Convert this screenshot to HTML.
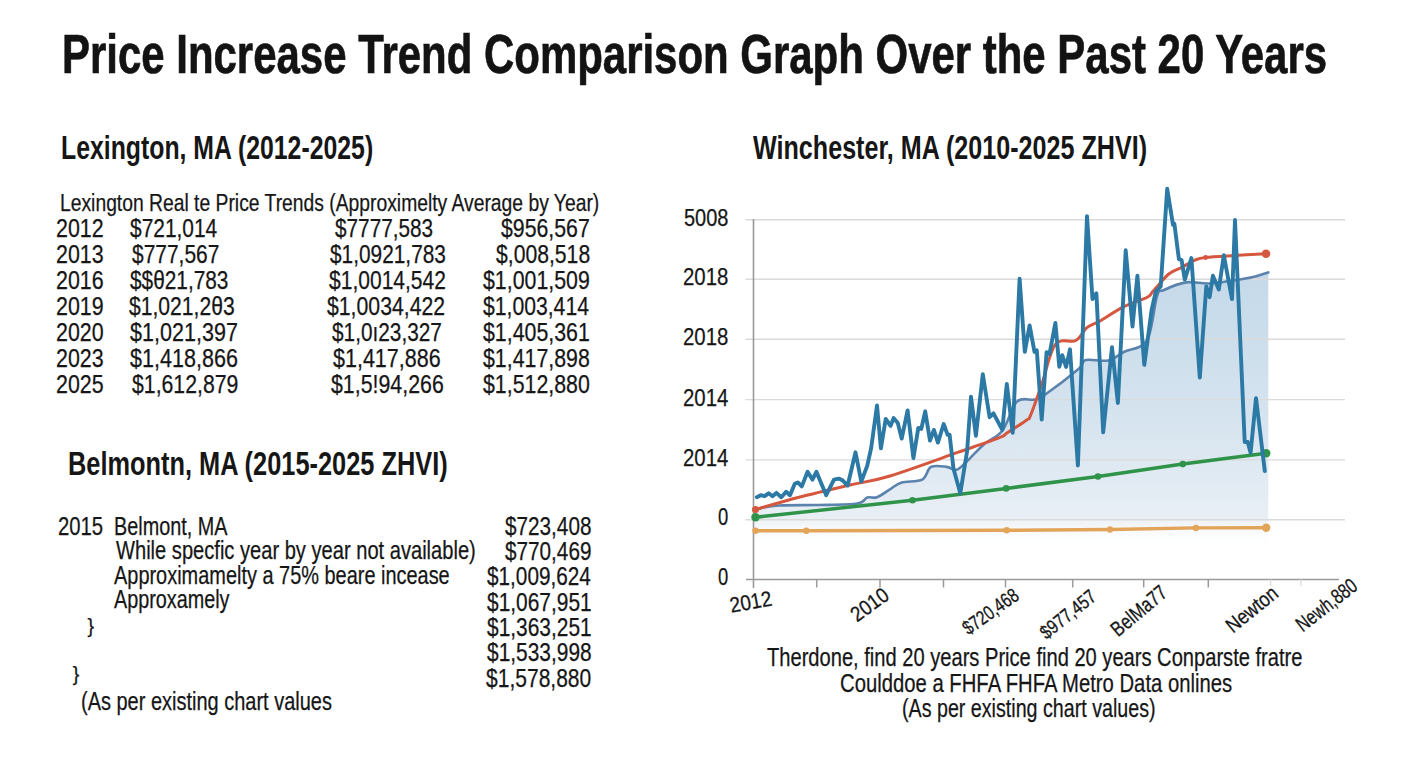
<!DOCTYPE html>
<html><head><meta charset="utf-8"><style>
html,body{margin:0;padding:0;}
body{width:1408px;height:768px;position:relative;overflow:hidden;background:#fff;font-family:"Liberation Sans",sans-serif;color:#161616;}
.t{position:absolute;white-space:nowrap;}
svg{position:absolute;left:0;top:0;}
</style></head><body>
<svg width="1408" height="768" viewBox="0 0 1408 768">
<defs><linearGradient id="fg" x1="0" y1="0" x2="0" y2="1"><stop offset="0" stop-color="#c4d9e9"/><stop offset="0.6" stop-color="#d6e4ef"/><stop offset="1" stop-color="#e9eff5"/></linearGradient>
<linearGradient id="fg2" x1="0" y1="0" x2="0" y2="1"><stop offset="0" stop-color="#eef2f6"/><stop offset="1" stop-color="#ffffff" stop-opacity="0"/></linearGradient></defs>
<path d="M758.0,508.5 C761.5,508.0 769.2,506.1 779.3,505.5 C789.4,504.9 805.4,505.3 818.4,505.0 C831.4,504.7 849.3,504.8 857.4,503.5 C865.5,502.2 863.9,498.6 867.2,497.5 C870.5,496.4 873.2,498.6 877.0,497.2 C880.8,495.8 885.9,491.8 890.0,489.3 C894.1,486.9 896.3,484.1 901.7,482.5 C907.1,480.9 917.3,482.2 922.2,479.6 C927.1,477.0 926.9,469.0 931.0,466.9 C935.1,464.8 942.4,466.4 946.6,466.9 C950.8,467.4 953.1,470.6 956.4,469.8 C959.7,469.0 961.6,466.2 966.2,462.0 C970.8,457.8 977.8,449.6 983.8,444.4 C989.8,439.2 996.8,437.8 1002.3,430.7 C1007.8,423.6 1011.6,406.8 1017.0,401.6 C1022.4,396.4 1029.7,400.8 1034.5,399.6 C1039.3,398.4 1038.2,399.3 1045.6,394.2 C1053.0,389.1 1072.1,374.5 1078.8,368.8 C1085.5,363.1 1080.8,361.4 1085.7,360.0 C1090.6,358.6 1101.9,361.8 1108.2,360.5 C1114.5,359.2 1117.3,355.4 1123.8,352.0 C1130.3,348.6 1141.5,349.5 1147.0,340.2 C1152.5,330.9 1154.2,304.4 1157.0,296.0 C1159.8,287.6 1159.1,292.3 1164.0,290.0 C1168.9,287.7 1178.9,283.5 1186.3,282.4 C1193.7,281.3 1201.0,283.8 1208.6,283.5 C1216.2,283.2 1226.3,281.4 1232.0,280.6 C1237.7,279.9 1238.8,279.6 1242.5,279.0 C1246.2,278.4 1249.9,277.8 1254.2,276.7 C1258.5,275.6 1266.0,273.1 1268.3,272.4 L1268.3,519.8 L758,519.8 Z" fill="url(#fg)"/>
<rect x="754" y="519.8" width="514.3" height="30" fill="url(#fg2)"/>
<line x1="745.5" y1="219.8" x2="1345" y2="219.8" stroke="#dadada" stroke-width="1.4"/>
<line x1="745.5" y1="279.3" x2="1345" y2="279.3" stroke="#dadada" stroke-width="1.4"/>
<line x1="745.5" y1="339.2" x2="1345" y2="339.2" stroke="#dadada" stroke-width="1.4"/>
<line x1="745.5" y1="399.6" x2="1345" y2="399.6" stroke="#dadada" stroke-width="1.4"/>
<line x1="745.5" y1="459.9" x2="1345" y2="459.9" stroke="#dadada" stroke-width="1.4"/>
<line x1="745.5" y1="519.8" x2="1345" y2="519.8" stroke="#dadada" stroke-width="1.4"/>
<line x1="753.5" y1="219" x2="753.5" y2="588" stroke="#9a9a9a" stroke-width="1.6"/>
<line x1="746" y1="579.5" x2="1339" y2="579.5" stroke="#9a9a9a" stroke-width="1.6"/>
<line x1="816.7" y1="579.5" x2="816.7" y2="587.5" stroke="#9a9a9a" stroke-width="1.5"/>
<line x1="880" y1="579.5" x2="880" y2="587.5" stroke="#9a9a9a" stroke-width="1.5"/>
<line x1="943.5" y1="579.5" x2="943.5" y2="587.5" stroke="#9a9a9a" stroke-width="1.5"/>
<line x1="1005.5" y1="579.5" x2="1005.5" y2="587.5" stroke="#9a9a9a" stroke-width="1.5"/>
<line x1="1072.7" y1="579.5" x2="1072.7" y2="587.5" stroke="#9a9a9a" stroke-width="1.5"/>
<line x1="1143.7" y1="579.5" x2="1143.7" y2="587.5" stroke="#9a9a9a" stroke-width="1.5"/>
<line x1="1208.3" y1="579.5" x2="1208.3" y2="587.5" stroke="#9a9a9a" stroke-width="1.5"/>
<line x1="1270.7" y1="579.5" x2="1270.7" y2="586" stroke="#dcdcdc" stroke-width="1.3"/>
<line x1="1301" y1="579.5" x2="1301" y2="586" stroke="#dcdcdc" stroke-width="1.3"/>
<polyline points="755.5,530.8 806.3,530.7 1006.7,530.3 1110.0,529.5 1195.9,527.9 1266.2,527.7" fill="none" stroke="#e2a458" stroke-width="3.4" stroke-linejoin="round" stroke-linecap="round"/>
<circle cx="755.5" cy="530.8" r="3.2" fill="#e2a458"/>
<circle cx="806.3" cy="530.7" r="3.2" fill="#e2a458"/>
<circle cx="1006.7" cy="530.3" r="3.2" fill="#e2a458"/>
<circle cx="1110" cy="529.5" r="3.2" fill="#e2a458"/>
<circle cx="1195.9" cy="527.9" r="3.2" fill="#e2a458"/>
<circle cx="1266.2" cy="527.7" r="4.2" fill="#e2a458"/>
<path d="M758.0,508.5 C761.5,508.0 769.2,506.1 779.3,505.5 C789.4,504.9 805.4,505.3 818.4,505.0 C831.4,504.7 849.3,504.8 857.4,503.5 C865.5,502.2 863.9,498.6 867.2,497.5 C870.5,496.4 873.2,498.6 877.0,497.2 C880.8,495.8 885.9,491.8 890.0,489.3 C894.1,486.9 896.3,484.1 901.7,482.5 C907.1,480.9 917.3,482.2 922.2,479.6 C927.1,477.0 926.9,469.0 931.0,466.9 C935.1,464.8 942.4,466.4 946.6,466.9 C950.8,467.4 953.1,470.6 956.4,469.8 C959.7,469.0 961.6,466.2 966.2,462.0 C970.8,457.8 977.8,449.6 983.8,444.4 C989.8,439.2 996.8,437.8 1002.3,430.7 C1007.8,423.6 1011.6,406.8 1017.0,401.6 C1022.4,396.4 1029.7,400.8 1034.5,399.6 C1039.3,398.4 1038.2,399.3 1045.6,394.2 C1053.0,389.1 1072.1,374.5 1078.8,368.8 C1085.5,363.1 1080.8,361.4 1085.7,360.0 C1090.6,358.6 1101.9,361.8 1108.2,360.5 C1114.5,359.2 1117.3,355.4 1123.8,352.0 C1130.3,348.6 1141.5,349.5 1147.0,340.2 C1152.5,330.9 1154.2,304.4 1157.0,296.0 C1159.8,287.6 1159.1,292.3 1164.0,290.0 C1168.9,287.7 1178.9,283.5 1186.3,282.4 C1193.7,281.3 1201.0,283.8 1208.6,283.5 C1216.2,283.2 1226.3,281.4 1232.0,280.6 C1237.7,279.9 1238.8,279.6 1242.5,279.0 C1246.2,278.4 1249.9,277.8 1254.2,276.7 C1258.5,275.6 1266.0,273.1 1268.3,272.4" fill="none" stroke="#5c83ad" stroke-width="2.6" stroke-linejoin="round" stroke-linecap="round"/>
<polyline points="755.5,517.3 912.5,500.2 1006.2,488.4 1098.0,476.5 1182.8,464.1 1266.2,453.2" fill="none" stroke="#2f9449" stroke-width="3.5" stroke-linejoin="round" stroke-linecap="round"/>
<circle cx="755.5" cy="517.3" r="4.2" fill="#2f9449"/>
<circle cx="912.5" cy="500.2" r="3.3" fill="#2f9449"/>
<circle cx="1006.2" cy="488.4" r="3.3" fill="#2f9449"/>
<circle cx="1098" cy="476.5" r="3.3" fill="#2f9449"/>
<circle cx="1182.8" cy="464.1" r="3.3" fill="#2f9449"/>
<circle cx="1266.2" cy="453.2" r="4.2" fill="#2f9449"/>
<path d="M755.5,509.5 C762.9,507.4 784.2,501.1 800.0,497.0 C815.8,492.9 835.0,488.5 850.0,485.0 C865.0,481.5 871.9,481.5 890.0,476.0 C908.1,470.5 940.2,458.6 958.4,452.2 C976.6,445.8 991.3,440.8 999.4,437.6 C1007.5,434.4 1002.7,435.7 1007.2,432.8 C1011.8,429.9 1022.8,422.9 1026.7,420.0 C1030.6,417.1 1028.1,421.1 1030.6,415.2 C1033.1,409.3 1037.6,396.3 1041.7,384.5 C1045.8,372.7 1049.7,351.7 1055.4,344.4 C1061.1,337.1 1070.7,343.3 1075.9,340.5 C1081.1,337.7 1082.6,331.1 1086.6,327.8 C1090.6,324.6 1093.9,324.5 1100.0,321.0 C1106.1,317.5 1115.5,310.9 1123.4,306.9 C1131.3,302.9 1142.3,299.8 1147.2,297.2 C1152.1,294.6 1149.4,295.2 1153.0,291.3 C1156.6,287.4 1164.1,277.9 1168.8,274.0 C1173.5,270.1 1176.7,270.1 1181.0,267.8 C1185.3,265.5 1190.8,261.8 1194.9,260.1 C1199.0,258.4 1199.1,258.2 1205.7,257.5 C1212.3,256.8 1224.7,256.2 1234.7,255.6 C1244.8,255.0 1260.8,254.0 1266.0,253.7" fill="none" stroke="#d5573e" stroke-width="3" stroke-linejoin="round" stroke-linecap="round"/>
<circle cx="755.5" cy="509.5" r="3.5" fill="#d5573e"/><circle cx="1266" cy="253.7" r="4.3" fill="#d5573e"/><circle cx="1205.7" cy="257.5" r="2.4" fill="#d5573e"/>
<polyline points="756.8,497.2 760.7,495.2 764.6,496.2 768.6,493.3 772.5,496.2 776.4,492.9 781.3,497.2 786.1,491.7 790.0,495.2 794.9,483.5 797.9,482.5 801.8,486.4 807.6,471.8 812.5,479.6 816.4,471.8 826.2,495.2 834.0,479.6 838.9,478.6 842.8,480.6 847.7,485.5 855.5,452.3 861.3,481.6 867.2,465.9 871.1,448.4 877.0,405.4 880.9,448.4 885.7,419.0 890.6,425.9 893.6,418.1 897.8,423.0 901.7,438.6 907.6,410.4 913.4,458.1 918.3,427.9 921.3,428.9 925.2,411.3 930.0,440.6 933.9,429.9 937.9,442.6 943.7,424.0 947.6,434.8 949.6,434.8 953.5,468.8 960.3,493.2 967.1,451.3 971.0,396.7 975.9,435.7 982.8,374.2 989.6,417.2 993.5,413.3 1002.3,429.9 1006.8,384.0 1012.7,432.8 1019.6,278.6 1024.8,351.8 1029.6,325.4 1034.5,351.8 1036.8,350.3 1041.7,419.6 1046.6,352.2 1049.5,354.2 1055.4,322.9 1059.3,366.9 1062.2,355.2 1066.1,366.9 1070.0,349.3 1077.9,465.5 1087.0,216.1 1092.5,299.1 1096.4,293.3 1103.2,432.3 1112.0,347.3 1117.9,403.0 1125.7,250.3 1132.5,326.5 1137.4,275.7 1144.3,364.9 1151.6,310.0 1155.9,291.3 1160.7,286.4 1167.2,188.8 1173.0,224.9 1174.4,223.9 1178.9,259.1 1181.6,260.1 1184.8,279.6 1191.4,258.1 1199.8,377.6 1206.3,286.4 1209.6,297.2 1212.9,275.7 1218.8,289.4 1223.8,255.2 1232.0,299.1 1235.0,220.0 1244.7,442.0 1247.7,442.0 1250.6,452.8 1256.0,398.1 1264.8,471.0" fill="none" stroke="#2b79a4" stroke-width="3.9" stroke-linejoin="round" stroke-linecap="round"/>
<text transform="translate(731.3,612.8) rotate(-10.3)" font-family="Liberation Sans" font-size="21.5" textLength="42.3" lengthAdjust="spacingAndGlyphs" fill="#161616" stroke="#161616" stroke-width="0.3">2012</text>
<text transform="translate(857.0,622.5) rotate(-36.0)" font-family="Liberation Sans" font-size="21" textLength="41.5" lengthAdjust="spacingAndGlyphs" fill="#161616" stroke="#161616" stroke-width="0.3">2010</text>
<text transform="translate(968.5,635.6) rotate(-35.6)" font-family="Liberation Sans" font-size="20" textLength="63.8" lengthAdjust="spacingAndGlyphs" fill="#161616" stroke="#161616" stroke-width="0.3">$720,468</text>
<text transform="translate(1046.5,640.0) rotate(-38.7)" font-family="Liberation Sans" font-size="19.5" textLength="65.6" lengthAdjust="spacingAndGlyphs" fill="#161616" stroke="#161616" stroke-width="0.3">$977,457</text>
<text transform="translate(1118.1,637.4) rotate(-39.9)" font-family="Liberation Sans" font-size="21" textLength="66.0" lengthAdjust="spacingAndGlyphs" fill="#161616" stroke="#161616" stroke-width="0.3">BelMa77</text>
<text transform="translate(1233.0,633.7) rotate(-39.2)" font-family="Liberation Sans" font-size="21" textLength="60.1" lengthAdjust="spacingAndGlyphs" fill="#161616" stroke="#161616" stroke-width="0.3">Newton</text>
<text transform="translate(1302.7,632.4) rotate(-37.9)" font-family="Liberation Sans" font-size="21" textLength="71.2" lengthAdjust="spacingAndGlyphs" fill="#161616" stroke="#161616" stroke-width="0.3">Newh,880</text>
</svg>
<div class="t" style="left:62.4px;top:26.9px;font-size:55px;line-height:55px;font-weight:bold;-webkit-text-stroke:0.7px #131313;color:#131313;transform:scaleX(0.7626);transform-origin:left top;">Price Increase Trend Comparison Graph Over the Past 20 Years</div>
<div class="t" style="left:61.3px;top:131.5px;font-size:32.8px;line-height:32.8px;font-weight:bold;transform:scaleX(0.7568);transform-origin:left top;">Lexington, MA (2012-2025)</div>
<div class="t" style="left:59.9px;top:190.7px;font-size:24.8px;line-height:24.8px;-webkit-text-stroke:0.25px #161616;transform:scaleX(0.7783);transform-origin:left top;">Lexington Real te Price Trends (Approximelty Average by Year)</div>
<div class="t" style="left:56.2px;top:216.1px;font-size:25px;line-height:25px;-webkit-text-stroke:0.25px #161616;transform:scaleX(0.8564);transform-origin:left top;">2012</div>
<div class="t" style="left:130.3px;top:216.1px;font-size:25px;line-height:25px;-webkit-text-stroke:0.25px #161616;transform:scaleX(0.8365);transform-origin:left top;">$721,014</div>
<div class="t" style="left:335.2px;top:216.1px;font-size:25px;line-height:25px;-webkit-text-stroke:0.25px #161616;transform:scaleX(0.8305);transform-origin:left top;">$7777,583</div>
<div class="t" style="left:501.4px;top:216.1px;font-size:25px;line-height:25px;-webkit-text-stroke:0.25px #161616;transform:scaleX(0.8513);transform-origin:left top;">$956,567</div>
<div class="t" style="left:56.2px;top:242.1px;font-size:25px;line-height:25px;-webkit-text-stroke:0.25px #161616;transform:scaleX(0.8564);transform-origin:left top;">2013</div>
<div class="t" style="left:132.0px;top:242.1px;font-size:25px;line-height:25px;-webkit-text-stroke:0.25px #161616;transform:scaleX(0.8378);transform-origin:left top;">$777,567</div>
<div class="t" style="left:329.5px;top:242.1px;font-size:25px;line-height:25px;-webkit-text-stroke:0.25px #161616;transform:scaleX(0.8340);transform-origin:left top;">$1,0921,783</div>
<div class="t" style="left:496.0px;top:242.1px;font-size:25px;line-height:25px;-webkit-text-stroke:0.25px #161616;transform:scaleX(0.8467);transform-origin:left top;">$,008,518</div>
<div class="t" style="left:56.2px;top:268.1px;font-size:25px;line-height:25px;-webkit-text-stroke:0.25px #161616;transform:scaleX(0.8564);transform-origin:left top;">2016</div>
<div class="t" style="left:129.5px;top:268.1px;font-size:25px;line-height:25px;-webkit-text-stroke:0.25px #161616;transform:scaleX(0.8331);transform-origin:left top;">$$θ21,783</div>
<div class="t" style="left:328.5px;top:268.1px;font-size:25px;line-height:25px;-webkit-text-stroke:0.25px #161616;transform:scaleX(0.8413);transform-origin:left top;">$1,0014,542</div>
<div class="t" style="left:483.4px;top:268.1px;font-size:25px;line-height:25px;-webkit-text-stroke:0.25px #161616;transform:scaleX(0.8533);transform-origin:left top;">$1,001,509</div>
<div class="t" style="left:56.2px;top:294.1px;font-size:25px;line-height:25px;-webkit-text-stroke:0.25px #161616;transform:scaleX(0.8564);transform-origin:left top;">2019</div>
<div class="t" style="left:128.5px;top:294.1px;font-size:25px;line-height:25px;-webkit-text-stroke:0.25px #161616;transform:scaleX(0.8445);transform-origin:left top;">$1,021,2θ3</div>
<div class="t" style="left:327.4px;top:294.1px;font-size:25px;line-height:25px;-webkit-text-stroke:0.25px #161616;transform:scaleX(0.8492);transform-origin:left top;">$1,0034,422</div>
<div class="t" style="left:483.4px;top:294.1px;font-size:25px;line-height:25px;-webkit-text-stroke:0.25px #161616;transform:scaleX(0.8465);transform-origin:left top;">$1,003,414</div>
<div class="t" style="left:56.2px;top:320.0px;font-size:25px;line-height:25px;-webkit-text-stroke:0.25px #161616;transform:scaleX(0.8564);transform-origin:left top;">2020</div>
<div class="t" style="left:129.5px;top:320.0px;font-size:25px;line-height:25px;-webkit-text-stroke:0.25px #161616;transform:scaleX(0.8622);transform-origin:left top;">$1,021,397</div>
<div class="t" style="left:331.8px;top:320.0px;font-size:25px;line-height:25px;-webkit-text-stroke:0.25px #161616;transform:scaleX(0.8325);transform-origin:left top;">$1,0ı23,327</div>
<div class="t" style="left:483.4px;top:320.0px;font-size:25px;line-height:25px;-webkit-text-stroke:0.25px #161616;transform:scaleX(0.8533);transform-origin:left top;">$1,405,361</div>
<div class="t" style="left:56.2px;top:346.0px;font-size:25px;line-height:25px;-webkit-text-stroke:0.25px #161616;transform:scaleX(0.8564);transform-origin:left top;">2023</div>
<div class="t" style="left:129.5px;top:346.0px;font-size:25px;line-height:25px;-webkit-text-stroke:0.25px #161616;transform:scaleX(0.8622);transform-origin:left top;">$1,418,866</div>
<div class="t" style="left:332.9px;top:346.0px;font-size:25px;line-height:25px;-webkit-text-stroke:0.25px #161616;transform:scaleX(0.8606);transform-origin:left top;">$1,417,886</div>
<div class="t" style="left:483.4px;top:346.0px;font-size:25px;line-height:25px;-webkit-text-stroke:0.25px #161616;transform:scaleX(0.8533);transform-origin:left top;">$1,417,898</div>
<div class="t" style="left:56.2px;top:372.0px;font-size:25px;line-height:25px;-webkit-text-stroke:0.25px #161616;transform:scaleX(0.8564);transform-origin:left top;">2025</div>
<div class="t" style="left:131.5px;top:372.0px;font-size:25px;line-height:25px;-webkit-text-stroke:0.25px #161616;transform:scaleX(0.8501);transform-origin:left top;">$1,612,879</div>
<div class="t" style="left:331.0px;top:372.0px;font-size:25px;line-height:25px;-webkit-text-stroke:0.25px #161616;transform:scaleX(0.8539);transform-origin:left top;">$1,5!94,266</div>
<div class="t" style="left:483.4px;top:372.0px;font-size:25px;line-height:25px;-webkit-text-stroke:0.25px #161616;transform:scaleX(0.8533);transform-origin:left top;">$1,512,880</div>
<div class="t" style="left:67.6px;top:447.7px;font-size:32.3px;line-height:32.3px;font-weight:bold;transform:scaleX(0.7854);transform-origin:left top;">Belmontn, MA (2015-2025 ZHVI)</div>
<div class="t" style="left:58.3px;top:513.7px;font-size:25px;line-height:25px;-webkit-text-stroke:0.25px #161616;transform:scaleX(0.8117);transform-origin:left top;">2015</div>
<div class="t" style="left:113.9px;top:513.7px;font-size:25px;line-height:25px;-webkit-text-stroke:0.25px #161616;transform:scaleX(0.7933);transform-origin:left top;">Belmont, MA</div>
<div class="t" style="left:116.3px;top:537.6px;font-size:25px;line-height:25px;-webkit-text-stroke:0.25px #161616;transform:scaleX(0.8041);transform-origin:left top;">While specfic year by year not available)</div>
<div class="t" style="left:114.4px;top:562.5px;font-size:25px;line-height:25px;-webkit-text-stroke:0.25px #161616;transform:scaleX(0.7973);transform-origin:left top;">Approximamelty a 75% beare incease</div>
<div class="t" style="left:114.4px;top:587.4px;font-size:25px;line-height:25px;-webkit-text-stroke:0.25px #161616;transform:scaleX(0.7917);transform-origin:left top;">Approxamely</div>
<div class="t" style="left:87.4px;top:616.8px;font-size:19.6px;line-height:19.6px;-webkit-text-stroke:0.25px #161616;">}</div>
<div class="t" style="left:72.8px;top:665.0px;font-size:19.6px;line-height:19.6px;-webkit-text-stroke:0.25px #161616;">}</div>
<div class="t" style="left:81.2px;top:688.5px;font-size:25px;line-height:25px;-webkit-text-stroke:0.25px #161616;transform:scaleX(0.7990);transform-origin:left top;">(As per existing chart values</div>
<div class="t" style="left:504.8px;top:513.7px;font-size:25px;line-height:25px;-webkit-text-stroke:0.25px #161616;transform:scaleX(0.8291);transform-origin:left top;">$723,408</div>
<div class="t" style="left:504.8px;top:539.1px;font-size:25px;line-height:25px;-webkit-text-stroke:0.25px #161616;transform:scaleX(0.8291);transform-origin:left top;">$770,469</div>
<div class="t" style="left:486.6px;top:564.4px;font-size:25px;line-height:25px;-webkit-text-stroke:0.25px #161616;transform:scaleX(0.8298);transform-origin:left top;">$1,009,624</div>
<div class="t" style="left:486.6px;top:589.8px;font-size:25px;line-height:25px;-webkit-text-stroke:0.25px #161616;transform:scaleX(0.8364);transform-origin:left top;">$1,067,951</div>
<div class="t" style="left:486.6px;top:615.1px;font-size:25px;line-height:25px;-webkit-text-stroke:0.25px #161616;transform:scaleX(0.8364);transform-origin:left top;">$1,363,251</div>
<div class="t" style="left:486.6px;top:640.4px;font-size:25px;line-height:25px;-webkit-text-stroke:0.25px #161616;transform:scaleX(0.8364);transform-origin:left top;">$1,533,998</div>
<div class="t" style="left:486.0px;top:665.8px;font-size:25px;line-height:25px;-webkit-text-stroke:0.25px #161616;transform:scaleX(0.8413);transform-origin:left top;">$1,578,880</div>
<div class="t" style="left:752.8px;top:131.5px;font-size:32.4px;line-height:32.4px;font-weight:bold;transform:scaleX(0.7758);transform-origin:left top;">Winchester, MA (2010-2025 ZHVI)</div>
<div class="t" style="left:683.8px;top:206.7px;font-size:23.5px;line-height:23.5px;-webkit-text-stroke:0.25px #161616;transform:scaleX(0.8504);transform-origin:left top;">5008</div>
<div class="t" style="left:682.9px;top:266.2px;font-size:23.5px;line-height:23.5px;-webkit-text-stroke:0.25px #161616;transform:scaleX(0.8670);transform-origin:left top;">2018</div>
<div class="t" style="left:682.9px;top:326.1px;font-size:23.5px;line-height:23.5px;-webkit-text-stroke:0.25px #161616;transform:scaleX(0.8670);transform-origin:left top;">2018</div>
<div class="t" style="left:682.9px;top:386.5px;font-size:23.5px;line-height:23.5px;-webkit-text-stroke:0.25px #161616;transform:scaleX(0.8670);transform-origin:left top;">2014</div>
<div class="t" style="left:682.9px;top:446.8px;font-size:23.5px;line-height:23.5px;-webkit-text-stroke:0.25px #161616;transform:scaleX(0.8670);transform-origin:left top;">2014</div>
<div class="t" style="left:718.0px;top:506.2px;font-size:23.5px;line-height:23.5px;-webkit-text-stroke:0.25px #161616;transform:scaleX(0.7846);transform-origin:left top;">0</div>
<div class="t" style="left:718.0px;top:565.9px;font-size:23.5px;line-height:23.5px;-webkit-text-stroke:0.25px #161616;transform:scaleX(0.7846);transform-origin:left top;">0</div>
<div class="t" style="left:766.7px;top:645.4px;font-size:25px;line-height:25px;-webkit-text-stroke:0.25px #161616;transform:scaleX(0.8044);transform-origin:left top;">Therdone, find 20 years Price find 20 years Conparste fratre</div>
<div class="t" style="left:840.3px;top:671.0px;font-size:25px;line-height:25px;-webkit-text-stroke:0.25px #161616;transform:scaleX(0.8110);transform-origin:left top;">Coulddoe a FHFA FHFA Metro Data onlines</div>
<div class="t" style="left:901.9px;top:696.0px;font-size:25px;line-height:25px;-webkit-text-stroke:0.25px #161616;transform:scaleX(0.7865);transform-origin:left top;">(As per existing chart values)</div>
</body></html>
